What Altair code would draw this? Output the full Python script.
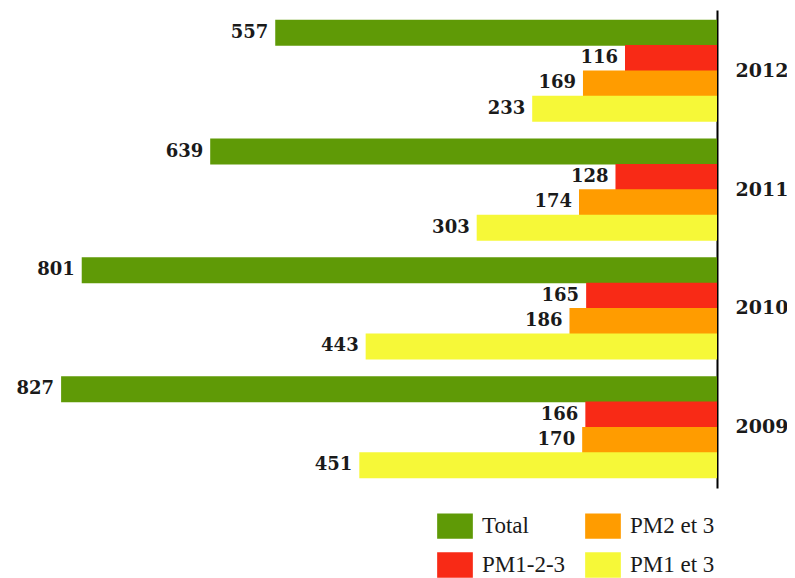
import altair as alt
import pandas as pd

years = ["2012", "2011", "2010", "2009"]
series = ["Total", "PM1-2-3", "PM2 et 3", "PM1 et 3"]
colors = ["#5f9a06", "#f82a16", "#ff9c00", "#f6f838"]

total = [557, 639, 801, 827]
pm123 = [116, 128, 165, 166]
pm2et3 = [169, 174, 186, 170]
pm1et3 = [233, 303, 443, 451]

rows = []
for i, y in enumerate(years):
    for s, vals in zip(series, [total, pm123, pm2et3, pm1et3]):
        rows.append({"year": y, "series": s, "value": vals[i]})
df = pd.DataFrame(rows)

x = alt.X("value:Q", scale=alt.Scale(domain=[0, 870], reverse=True, nice=False, zero=True), axis=None)
y = alt.Y("year:N", sort=years,
          scale=alt.Scale(paddingInner=0.146, paddingOuter=0.084),
          axis=alt.Axis(orient="right", title=None, ticks=False, domainColor="#000000",
                        domainWidth=2, labelPadding=18, labelFont="DejaVu Serif",
                        labelFontWeight="bold", labelFontSize=19, labelColor="#1a1a1a",
                        labelLimit=200))
yoff = alt.YOffset("series:N", sort=series, scale=alt.Scale(paddingInner=0, paddingOuter=0))

bars = alt.Chart(df).mark_bar(size=26).encode(
    x=x, y=y, yOffset=yoff,
    color=alt.Color("series:N", scale=alt.Scale(domain=series, range=colors),
                    legend=alt.Legend(title=None, orient="none", legendX=415, legendY=503,
                                      columns=2, columnPadding=19, rowPadding=13,
                                      symbolType="M-1.4,-1L1.4,-1L1.4,1L-1.4,1Z",
                                      symbolSize=650, symbolStrokeWidth=0, symbolOpacity=1,
                                      labelFont="Liberation Serif", labelFontSize=23,
                                      labelColor="#1a1a1a", labelOffset=14, padding=0,
                                      labelLimit=200))
)

labels = alt.Chart(df).mark_text(align="right", baseline="middle", dx=-7,
                                 font="DejaVu Serif", fontWeight="bold", fontSize=18,
                                 color="#1a1a1a").encode(
    x=x, y=y, yOffset=yoff, text="value:Q"
)

chart = alt.layer(bars, labels).properties(
    width=690, height=478,
    autosize=alt.AutoSizeParams(type="none"),
    padding={"left": 19, "top": 2, "right": 70, "bottom": 90},
).configure_view(stroke=None)

chart.save("out.html", embed_options={"renderer": "svg", "actions": False})
